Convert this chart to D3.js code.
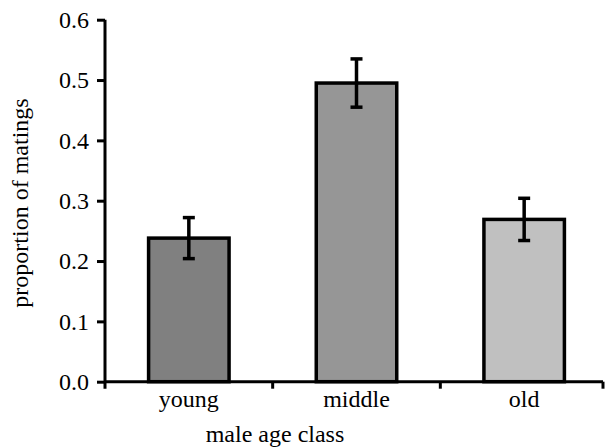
<!DOCTYPE html>
<html>
<head>
<meta charset="utf-8">
<script src="https://cdn.jsdelivr.net/npm/d3@7"></script>
<style>
  body { margin: 0; background: #fff; }
</style>
</head>
<body>
<div id="chart"></div>
<script>
// Data
var categories = ["young", "middle", "old"];
var proportions = [0.238, 0.495, 0.269];
var errors = [0.034, 0.040, 0.035];
var barColors = ["#808080", "#969696", "#c0c0c0"];
var yTicks = [0, 0.1, 0.2, 0.3, 0.4, 0.5, 0.6];

var width = 607, height = 448;
var serif = "'Liberation Serif', 'Times New Roman', serif";

var svg = d3.select("#chart").append("svg")
    .attr("width", width)
    .attr("height", height)
    .style("font-family", serif);

// Scales
var x = d3.scaleBand()
    .domain(categories)
    .range([105, 608])
    .paddingInner(0.52)
    .paddingOuter(0.26);

var y = d3.scaleLinear()
    .domain([0, 0.6])
    .range([381.7, 19.7]);

var data = categories.map(function(c, i) {
  return { cat: c, value: proportions[i], err: errors[i], color: barColors[i] };
});

// Bars
svg.append("g").selectAll("rect")
    .data(data)
    .enter()
    .append("rect")
    .attr("x", function(d) { return x(d.cat); })
    .attr("y", function(d) { return y(d.value); })
    .attr("width", x.bandwidth())
    .attr("height", function(d) { return y(0) - y(d.value); })
    .attr("fill", function(d) { return d.color; })
    .attr("stroke", "#000")
    .attr("stroke-width", 3.5);

// Error bars
var eb = svg.append("g").selectAll("g")
    .data(data)
    .enter()
    .append("g")
    .attr("stroke", "#000")
    .attr("stroke-width", 3.5);

eb.append("line")
    .attr("x1", function(d) { return x(d.cat) + x.bandwidth() / 2; })
    .attr("x2", function(d) { return x(d.cat) + x.bandwidth() / 2; })
    .attr("y1", function(d) { return y(d.value + d.err); })
    .attr("y2", function(d) { return y(d.value - d.err); });

[1, -1].forEach(function(s) {
  eb.append("line")
      .attr("x1", function(d) { return x(d.cat) + x.bandwidth() / 2 - 6; })
      .attr("x2", function(d) { return x(d.cat) + x.bandwidth() / 2 + 6; })
      .attr("y1", function(d) { return y(d.value + s * d.err); })
      .attr("y2", function(d) { return y(d.value + s * d.err); });
});

// Y axis
var yAxis = d3.axisLeft(y)
    .tickValues(yTicks)
    .tickFormat(d3.format(".1f"))
    .tickSizeInner(8)
    .tickSizeOuter(0)
    .tickPadding(8);

var gy = svg.append("g")
    .attr("transform", "translate(105,0)")
    .call(yAxis)
    .attr("font-family", null)
    .attr("font-size", null);
gy.select(".domain").attr("stroke-width", 3).attr("d", "M0," + y(0.6) + "V" + (y(0) + 7));
gy.selectAll(".tick line").attr("stroke-width", 3);
gy.selectAll(".tick text")
    .style("font-family", serif)
    .style("font-size", "24px")
    .attr("dy", "0.33em");

// X axis (line + boundary ticks)
var xEnd = 603;
var gx = svg.append("g");
gx.append("line")
    .attr("x1", 105).attr("x2", xEnd)
    .attr("y1", y(0)).attr("y2", y(0))
    .attr("stroke", "#000").attr("stroke-width", 3);

var step = x.step();
var bounds = categories.map(function(c) { return x(c) - x.paddingInner() * step / 2; }).slice(1);
bounds.push(xEnd);
gx.selectAll("line.tick")
    .data(bounds)
    .enter()
    .append("line")
    .attr("class", "tick")
    .attr("x1", function(d) { return d; })
    .attr("x2", function(d) { return d; })
    .attr("y1", y(0))
    .attr("y2", y(0) + 7)
    .attr("stroke", "#000").attr("stroke-width", 3);

gx.selectAll("text")
    .data(categories)
    .enter()
    .append("text")
    .attr("x", function(d) { return x(d) + x.bandwidth() / 2; })
    .attr("y", 406.5)
    .attr("text-anchor", "middle")
    .style("font-family", serif)
    .style("font-size", "24px")
    .text(function(d) { return d; });

// Axis titles
svg.append("text")
    .attr("x", 275)
    .attr("y", 441.5)
    .attr("text-anchor", "middle")
    .style("font-family", serif)
    .style("font-size", "24px")
    .text("male age class");

svg.append("text")
    .attr("transform", "translate(28,203) rotate(-90)")
    .attr("text-anchor", "middle")
    .style("font-family", serif)
    .style("font-size", "24px")
    .text("proportion of matings");
</script>
</body>
</html>
